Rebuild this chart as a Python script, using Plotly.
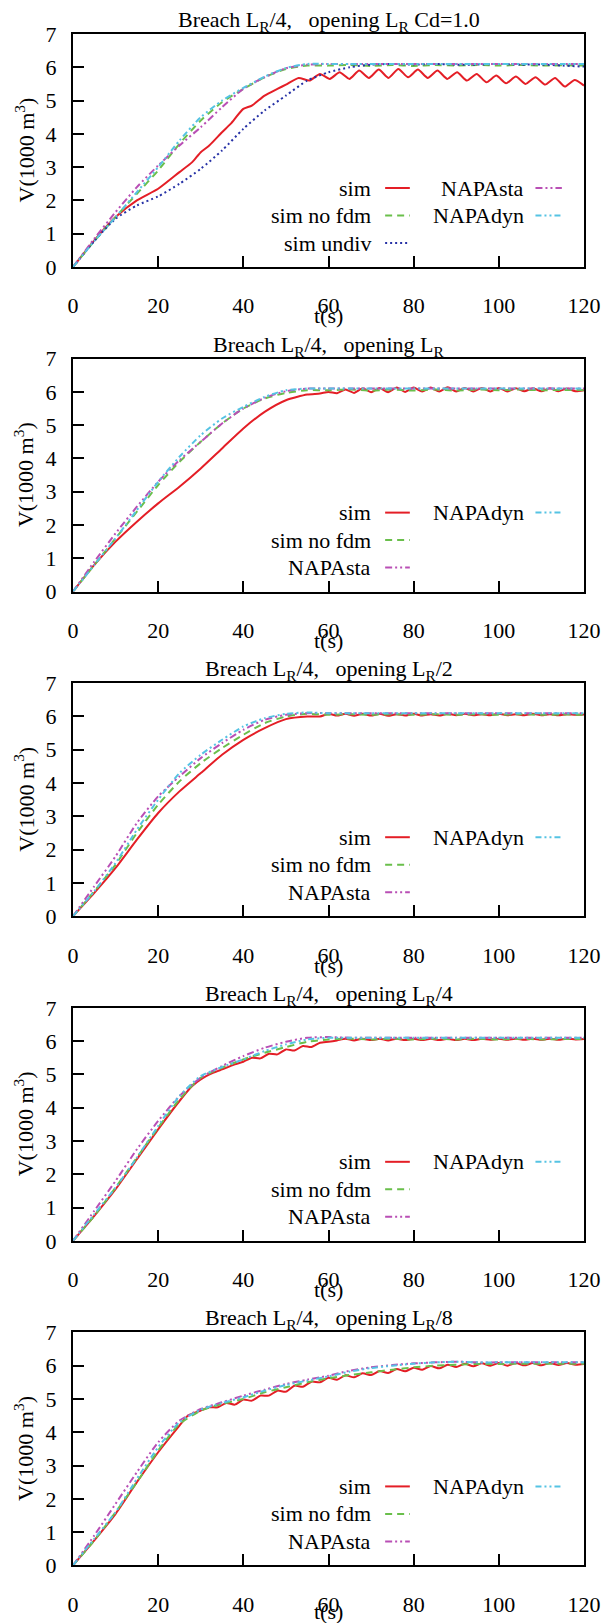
import plotly.graph_objects as go
from plotly.subplots import make_subplots

# ---------------- data ----------------
t_grid = [0, 5, 10, 15, 20, 25, 30, 35, 40, 45, 50, 55, 60, 65, 70, 75, 80, 85, 90, 95, 100, 105, 110, 115, 120]

titles = [
    "Breach L<sub>R</sub>/4,\u00a0\u00a0 opening L<sub>R</sub> Cd=1.0",
    "Breach L<sub>R</sub>/4,\u00a0\u00a0 opening L<sub>R</sub>",
    "Breach L<sub>R</sub>/4,\u00a0\u00a0 opening L<sub>R</sub>/2",
    "Breach L<sub>R</sub>/4,\u00a0\u00a0 opening L<sub>R</sub>/4",
    "Breach L<sub>R</sub>/4,\u00a0\u00a0 opening L<sub>R</sub>/8",
]
x_ticks = [0, 20, 40, 60, 80, 100, 120]
y_ticks = [0, 1, 2, 3, 4, 5, 6, 7]

# Panel 1 : opening L_R Cd=1.0
p1_sim_t = [0, 5, 10, 15, 20, 25, 28, 30, 32, 35, 37, 40, 42, 45, 48, 50, 53, 55.5,
            58, 60.3, 62.6, 64.9, 67.2, 69.5, 71.8, 74.1, 76.4, 78.7, 81, 83.3, 85.6, 87.9,
            90.2, 92.5, 94.8, 97.1, 99.4, 101.7, 104, 106.3, 108.6, 110.9, 113.2, 115.5, 117.8, 120]
p1_sim_v = [0, 0.8, 1.5, 2.0, 2.35, 2.85, 3.15, 3.45, 3.65, 4.05, 4.3, 4.75, 4.85, 5.15, 5.35, 5.48, 5.68, 5.6,
            5.8, 5.65, 5.85, 5.65, 5.9, 5.68, 5.93, 5.68, 5.95, 5.7, 5.93, 5.68, 5.9, 5.65,
            5.85, 5.6, 5.8, 5.55, 5.75, 5.52, 5.72, 5.5, 5.7, 5.48, 5.68, 5.42, 5.62, 5.45]
p1_nofdm_v = [0, 0.78, 1.5, 2.2, 2.9, 3.7, 4.4, 4.95, 5.35, 5.7, 5.95, 6.05, 6.05, 6.07, 6.04, 6.07, 6.04, 6.07, 6.05, 6.07, 6.05, 6.07, 6.05, 6.06, 6.05]
p1_undiv_v = [0, 0.78, 1.45, 1.85, 2.12, 2.5, 2.95, 3.5, 4.15, 4.7, 5.15, 5.6, 5.85, 6.0, 6.08, 6.1, 6.08, 6.1, 6.08, 6.08, 6.1, 6.08, 6.08, 6.05, 6.02]
p1_sta_v = [0, 0.85, 1.65, 2.4, 3.05, 3.65, 4.2, 4.8, 5.35, 5.7, 5.97, 6.08, 6.1, 6.1, 6.1, 6.1, 6.1, 6.1, 6.1, 6.1, 6.1, 6.1, 6.1, 6.1, 6.1]
p1_dyn_v = [0, 0.78, 1.5, 2.25, 3.0, 3.8, 4.5, 5.0, 5.38, 5.72, 5.98, 6.1, 6.1, 6.1, 6.1, 6.1, 6.1, 6.1, 6.1, 6.1, 6.1, 6.1, 6.1, 6.1, 6.1]

# Panel 2 : opening L_R
p2_sim_t = [0, 5, 10, 15, 20, 25, 30, 35, 40, 45, 50, 55, 58, 60,
            62, 64, 66, 68, 70, 72, 74, 76, 78, 80, 82, 84, 86, 88, 90,
            92, 94, 96, 98, 100, 102, 104, 106, 108, 110, 112, 114, 116, 118, 120]
p2_sim_v = [0, 0.8, 1.5, 2.1, 2.65, 3.15, 3.7, 4.3, 4.9, 5.4, 5.75, 5.92, 5.95, 6.0,
            5.96, 6.07, 5.97, 6.11, 5.99, 6.12, 5.99, 6.13, 6.0, 6.13, 6.01, 6.13, 6.01, 6.14, 6.01,
            6.12, 6.01, 6.12, 6.01, 6.12, 6.01, 6.11, 6.02, 6.11, 6.02, 6.11, 6.02, 6.1, 6.02, 6.05]
p2_nofdm_v = [0, 0.8, 1.6, 2.4, 3.2, 3.9, 4.5, 5.05, 5.5, 5.8, 5.97, 6.05, 6.05, 6.07, 6.04, 6.07, 6.04, 6.07, 6.04, 6.07, 6.05, 6.07, 6.05, 6.06, 6.05]
p2_sta_v = [0, 0.9, 1.75, 2.55, 3.3, 3.95, 4.5, 5.05, 5.5, 5.82, 6.02, 6.1, 6.1, 6.1, 6.1, 6.1, 6.1, 6.1, 6.1, 6.1, 6.1, 6.1, 6.1, 6.1, 6.1]
p2_dyn_v = [0, 0.8, 1.6, 2.45, 3.3, 4.05, 4.7, 5.2, 5.55, 5.85, 6.05, 6.1, 6.1, 6.1, 6.1, 6.1, 6.1, 6.1, 6.1, 6.1, 6.1, 6.1, 6.1, 6.1, 6.1]

# Panel 3 : opening L_R/2
p3_sim_t = [0, 5, 10, 15, 20, 25, 30, 35, 40, 45, 50, 55, 58, 60,
            62, 64, 66, 68, 70, 72, 74, 76, 78, 80, 82, 84, 86, 88, 90,
            92, 94, 96, 98, 100, 102, 104, 106, 108, 110, 112, 114, 116, 118, 120]
p3_sim_v = [0, 0.7, 1.45, 2.3, 3.1, 3.75, 4.3, 4.85, 5.3, 5.65, 5.92, 6.0, 6.0, 6.08,
            6.03, 6.08, 6.02, 6.08, 6.03, 6.08, 6.02, 6.07, 6.03, 6.08, 6.03, 6.07, 6.03, 6.08, 6.04,
            6.08, 6.04, 6.07, 6.04, 6.08, 6.04, 6.07, 6.04, 6.08, 6.04, 6.07, 6.04, 6.07, 6.05, 6.06]
p3_nofdm_v = [0, 0.75, 1.55, 2.5, 3.35, 4.05, 4.6, 5.05, 5.45, 5.8, 6.0, 6.08, 6.05, 6.07, 6.05, 6.07, 6.05, 6.07, 6.05, 6.07, 6.05, 6.07, 6.05, 6.06, 6.05]
p3_sta_v = [0, 0.9, 1.8, 2.8, 3.6, 4.2, 4.75, 5.2, 5.6, 5.9, 6.05, 6.1, 6.1, 6.1, 6.1, 6.1, 6.1, 6.1, 6.1, 6.1, 6.1, 6.1, 6.1, 6.1, 6.1]
p3_dyn_v = [0, 0.75, 1.6, 2.6, 3.5, 4.3, 4.85, 5.3, 5.7, 5.95, 6.08, 6.12, 6.1, 6.1, 6.1, 6.1, 6.1, 6.1, 6.1, 6.1, 6.1, 6.1, 6.1, 6.1, 6.1]

# Panel 4 : opening L_R/4
p4_sim_t = [0, 5, 10, 15, 20, 25, 28, 30, 33, 35, 38, 40, 42, 44, 46, 48, 50, 52, 54, 56, 58, 60,
            62, 64, 66, 68, 70, 72, 74, 76, 78, 80, 82, 84, 86, 88, 90,
            92, 94, 96, 98, 100, 102, 104, 106, 108, 110, 112, 114, 116, 118, 120]
p4_sim_v = [0, 0.75, 1.55, 2.45, 3.35, 4.2, 4.65, 4.85, 5.05, 5.15, 5.3, 5.38, 5.5, 5.48, 5.62, 5.6, 5.75, 5.72, 5.85, 5.82, 5.95, 5.98,
            6.02, 6.07, 6.02, 6.07, 6.03, 6.07, 6.02, 6.07, 6.03, 6.07, 6.03, 6.07, 6.03, 6.07, 6.03,
            6.07, 6.03, 6.07, 6.04, 6.07, 6.04, 6.07, 6.04, 6.07, 6.04, 6.07, 6.04, 6.07, 6.05, 6.06]
p4_nofdm_v = [0, 0.75, 1.6, 2.5, 3.4, 4.25, 4.9, 5.2, 5.45, 5.65, 5.82, 5.98, 6.05, 6.07, 6.05, 6.07, 6.05, 6.07, 6.05, 6.07, 6.05, 6.07, 6.05, 6.06, 6.06]
p4_sta_v = [0, 0.9, 1.8, 2.75, 3.6, 4.35, 4.9, 5.25, 5.55, 5.8, 5.98, 6.1, 6.12, 6.1, 6.1, 6.1, 6.1, 6.1, 6.1, 6.1, 6.1, 6.1, 6.1, 6.1, 6.1]
p4_dyn_v = [0, 0.8, 1.6, 2.5, 3.45, 4.35, 4.95, 5.22, 5.45, 5.7, 5.9, 6.05, 6.1, 6.1, 6.1, 6.1, 6.1, 6.1, 6.1, 6.1, 6.1, 6.1, 6.1, 6.1, 6.1]

# Panel 5 : opening L_R/8
p5_sim_t = [0, 5, 10, 15, 20, 25, 27, 30,
            32, 34, 36, 38, 40, 42, 44, 46, 48, 50, 52, 54, 56, 58, 60, 62, 64, 66, 68, 70,
            72, 74, 76, 78, 80, 82, 84, 86, 88, 90, 92, 94, 96, 98, 100, 102, 104, 106, 108, 110,
            112, 114, 116, 118, 120]
p5_sim_v = [0, 0.75, 1.55, 2.5, 3.4, 4.2, 4.5, 4.65,
            4.75, 4.75, 4.88, 4.83, 4.98, 4.95, 5.1, 5.1, 5.25, 5.22, 5.4, 5.37, 5.52, 5.5, 5.64, 5.58, 5.71, 5.65, 5.77, 5.72,
            5.84, 5.78, 5.9, 5.83, 5.94, 5.88, 5.99, 5.92, 6.03, 5.96, 6.06, 5.98, 6.07, 6.0, 6.08, 6.0, 6.08, 6.01, 6.08, 6.01,
            6.08, 6.02, 6.08, 6.03, 6.05]
p5_nofdm_v = [0, 0.75, 1.6, 2.5, 3.45, 4.25, 4.65, 4.85, 5.0, 5.2, 5.35, 5.5, 5.62, 5.72, 5.8, 5.88, 5.95, 6.0, 6.03, 6.05, 6.05, 6.06, 6.06, 6.06, 6.06]
p5_sta_v = [0, 0.9, 1.85, 2.8, 3.7, 4.35, 4.7, 4.9, 5.1, 5.28, 5.45, 5.58, 5.7, 5.85, 5.95, 6.02, 6.07, 6.1, 6.12, 6.1, 6.1, 6.1, 6.1, 6.1, 6.1]
p5_dyn_v = [0, 0.8, 1.6, 2.6, 3.55, 4.3, 4.68, 4.88, 5.05, 5.25, 5.42, 5.55, 5.68, 5.82, 5.93, 6.0, 6.06, 6.1, 6.12, 6.1, 6.1, 6.1, 6.1, 6.1, 6.1]

# ---------------- styles ----------------
STY = {
    "sim": dict(color="#e41e26", dash="solid"),
    "sim no fdm": dict(color="#6abf4b", dash="7px,5px"),
    "sim undiv": dict(color="#2631a6", dash="2px,3px"),
    "NAPAsta": dict(color="#b94fb5", dash="7px,3px,2px,3px,2px,3px"),
    "NAPAdyn": dict(color="#55c3e3", dash="6px,3px,2px,3px,2px,3px"),
}

panels = [
    dict(series=[("sim", p1_sim_t, p1_sim_v), ("sim no fdm", t_grid, p1_nofdm_v), ("sim undiv", t_grid, p1_undiv_v),
                 ("NAPAsta", t_grid, p1_sta_v), ("NAPAdyn", t_grid, p1_dyn_v)],
         col1=["sim", "sim no fdm", "sim undiv"], col2=["NAPAsta", "NAPAdyn"]),
    dict(series=[("sim", p2_sim_t, p2_sim_v), ("sim no fdm", t_grid, p2_nofdm_v),
                 ("NAPAsta", t_grid, p2_sta_v), ("NAPAdyn", t_grid, p2_dyn_v)],
         col1=["sim", "sim no fdm", "NAPAsta"], col2=["NAPAdyn"]),
    dict(series=[("sim", p3_sim_t, p3_sim_v), ("sim no fdm", t_grid, p3_nofdm_v),
                 ("NAPAsta", t_grid, p3_sta_v), ("NAPAdyn", t_grid, p3_dyn_v)],
         col1=["sim", "sim no fdm", "NAPAsta"], col2=["NAPAdyn"]),
    dict(series=[("sim", p4_sim_t, p4_sim_v), ("sim no fdm", t_grid, p4_nofdm_v),
                 ("NAPAsta", t_grid, p4_sta_v), ("NAPAdyn", t_grid, p4_dyn_v)],
         col1=["sim", "sim no fdm", "NAPAsta"], col2=["NAPAdyn"]),
    dict(series=[("sim", p5_sim_t, p5_sim_v), ("sim no fdm", t_grid, p5_nofdm_v),
                 ("NAPAsta", t_grid, p5_sta_v), ("NAPAdyn", t_grid, p5_dyn_v)],
         col1=["sim", "sim no fdm", "NAPAsta"], col2=["NAPAdyn"]),
]

# ---------------- layout geometry (pixels) ----------------
W, H = 604, 1623
ML, MR = 73, 20
PLOT_W = W - ML - MR
TOP0, PITCH, PH = 34, 324.6, 233
FONT = "Liberation Serif, Times New Roman, Times, serif"
FS = 22

fig = make_subplots(rows=5, cols=1)

annotations = []
shapes = []
row_y = [0.339, 0.221, 0.103]
col1_text_x, col1_line = 70.4, (73.3, 79.1)
col2_text_x, col2_line = 106.4, (108.6, 114.8)
xtitle_gap = [49, 49, 49, 49, 46]

for i, p in enumerate(panels):
    r = i + 1
    top = TOP0 + PITCH * i
    bot = top + PH
    for name, tx, vy in p["series"]:
        s = STY[name]
        fig.add_trace(go.Scatter(x=tx, y=vy, mode="lines", name=name, showlegend=False,
                                 line=dict(color=s["color"], dash=s["dash"], width=2, shape="spline", smoothing=0.6)),
                      row=r, col=1)
    xa = "xaxis" if r == 1 else f"xaxis{r}"
    ya = "yaxis" if r == 1 else f"yaxis{r}"
    fig.layout[xa].update(domain=[0, 1])
    fig.layout[ya].update(domain=[1 - bot / H, 1 - top / H])

    xref = "x" if r == 1 else f"x{r}"
    yref = "y" if r == 1 else f"y{r}"
    # title
    annotations.append(dict(text=titles[i], xref="paper", yref="paper", x=0.5, y=1 - (top - 13) / H,
                            xanchor="center", yanchor="middle", showarrow=False,
                            font=dict(family=FONT, size=FS, color="black")))
    # x title
    annotations.append(dict(text="t(s)", xref="paper", yref="paper", x=0.5, y=1 - (bot + xtitle_gap[i]) / H,
                            xanchor="center", yanchor="middle", showarrow=False,
                            font=dict(family=FONT, size=FS, color="black")))
    # y title
    annotations.append(dict(text="V(1000 m<sup>3</sup>)", xref="paper", yref="paper",
                            x=(24 - ML) / PLOT_W, y=1 - (top + PH / 2) / H, textangle=-90,
                            xanchor="center", yanchor="middle", showarrow=False,
                            font=dict(family=FONT, size=FS, color="black")))
    # key
    for col_names, tx_, (lx0, lx1) in ((p["col1"], col1_text_x, col1_line), (p["col2"], col2_text_x, col2_line)):
        for k, nm in enumerate(col_names):
            s = STY[nm]
            annotations.append(dict(text=nm, xref=xref, yref=f"{yref} domain", x=tx_, y=row_y[k],
                                    xanchor="right", yanchor="middle", showarrow=False,
                                    font=dict(family=FONT, size=FS, color="black")))
            shapes.append(dict(type="line", xref=xref, yref=f"{yref} domain", x0=lx0, x1=lx1,
                               y0=row_y[k], y1=row_y[k], line=dict(color=s["color"], dash=s["dash"], width=2)))

fig.update_xaxes(range=[0, 120], tickvals=x_ticks, ticks="inside", ticklen=11, tickwidth=1.5, tickcolor="black",
                 showline=True, linecolor="black", linewidth=2, mirror=True, showgrid=False, zeroline=False,
                 tickfont=dict(family=FONT, size=FS, color="black"), ticklabelstandoff=18)
fig.update_yaxes(range=[0, 7], tickvals=y_ticks, ticks="inside", ticklen=11, tickwidth=1.5, tickcolor="black",
                 showline=True, linecolor="black", linewidth=2, mirror=True, showgrid=False, zeroline=False,
                 tickfont=dict(family=FONT, size=FS, color="black"), ticklabelstandoff=10)

fig.update_layout(width=W, height=H, margin=dict(l=ML, r=MR, t=0, b=0, autoexpand=False),
                  paper_bgcolor="white", plot_bgcolor="white", showlegend=False,
                  font=dict(family=FONT, size=FS, color="black"),
                  annotations=annotations, shapes=shapes)

fig.write_html("out.html")
